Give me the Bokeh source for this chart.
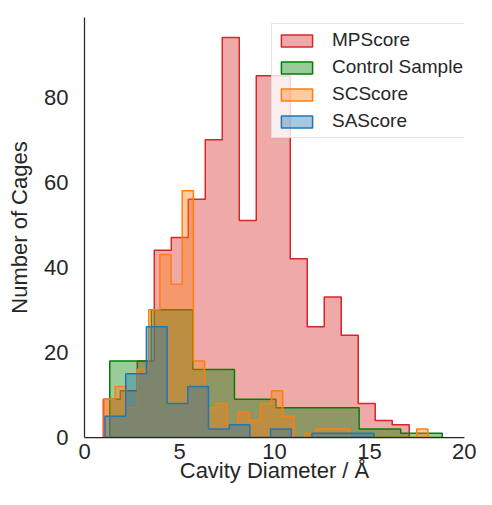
import numpy as np
from bokeh.plotting import figure
from bokeh.models import Range1d, FixedTicker
from bokeh.embed import file_html
from bokeh.resources import INLINE

# ---- data ----
x_ticks = [0, 5, 10, 15, 20]
y_ticks = [0, 20, 40, 60, 80]

series_names = ["MPScore", "Control Sample", "SCScore", "SAScore"]
series_colors = ["#d62728", "#008000", "#ff7f0e", "#1f77b4"]

mp_range = (0.99, 17.09)
mp_counts = [9, 11, 18, 44, 47, 56, 70, 94, 51, 85, 85, 42, 26, 33, 24, 8, 4, 3]

ctrl_range = (1.33, 18.83)
ctrl_counts = [18, 30, 16, 9, 7, 7, 2, 1]

sc_range = (1.03, 18.07)
sc_counts = [9, 12, 7, 16, 30, 43, 36, 58, 18, 7, 8, 3, 6, 4, 8, 11, 5, 0, 1, 2,
             2, 2, 0, 0, 0, 0, 0, 0, 2]

sa_range = (1.08, 15.24)
sa_counts = [5, 15, 26, 8, 12, 2, 3, 0, 2, 0, 1, 1, 1]

ranges = [mp_range, ctrl_range, sc_range, sa_range]
counts = [mp_counts, ctrl_counts, sc_counts, sa_counts]

TEXT = "#262626"
FONT = "Liberation Sans"


def step_outline(rng, cnts):
    edges = np.linspace(rng[0], rng[1], len(cnts) + 1)
    xs = [edges[0]]
    ys = [0.0]
    for i, c in enumerate(cnts):
        xs += [edges[i], edges[i + 1]]
        ys += [c, c]
    xs.append(edges[-1])
    ys.append(0.0)
    return xs, ys


p = figure(width=476, height=489, output_backend="svg", toolbar_location=None,
           x_range=Range1d(0, 20), y_range=Range1d(0, 98.7),
           min_border_left=84, min_border_right=12, min_border_top=17,
           min_border_bottom=52)

p.background_fill_color = "white"
p.border_fill_color = "white"
p.outline_line_color = None
p.xgrid.visible = False
p.ygrid.visible = False

for name, col, rng, cnts in zip(series_names, series_colors, ranges, counts):
    xs, ys = step_outline(rng, cnts)
    p.patch(xs, ys, fill_color=col, fill_alpha=0.4, line_color=col,
            line_width=1.5, legend_label=name)

for ax, ticks in ((p.xaxis, x_ticks), (p.yaxis, y_ticks)):
    ax.ticker = FixedTicker(ticks=ticks)
    ax.axis_line_color = TEXT
    ax.axis_line_width = 1.25
    ax.major_tick_line_color = None
    ax.minor_tick_line_color = None
    ax.major_tick_out = 0
    ax.major_tick_in = 0
    ax.major_label_text_font = FONT
    ax.major_label_text_font_size = "22px"
    ax.major_label_text_color = TEXT
    ax.axis_label_text_font = FONT
    ax.axis_label_text_font_size = "22px"
    ax.axis_label_text_font_style = "normal"
    ax.axis_label_text_color = TEXT

p.xaxis.axis_label = "Cavity Diameter / Å"
p.yaxis.axis_label = "Number of Cages"
p.xaxis.major_label_standoff = 6
p.xaxis.axis_label_standoff = -4
p.yaxis.major_label_standoff = 16
p.yaxis.axis_label_standoff = 9

lg = p.legend[0]
lg.location = (187, 299)
lg.padding = 5
lg.spacing = 5
lg.glyph_width = 39
lg.glyph_height = 15
lg.label_height = 21
lg.label_standoff = 16
lg.label_text_font = FONT
lg.label_text_font_size = "19px"
lg.label_text_color = TEXT
lg.border_line_color = "#cccccc"
lg.border_line_width = 1.5
lg.background_fill_color = "white"
lg.background_fill_alpha = 0.8

open("out.html", "w").write(file_html(p, INLINE))
